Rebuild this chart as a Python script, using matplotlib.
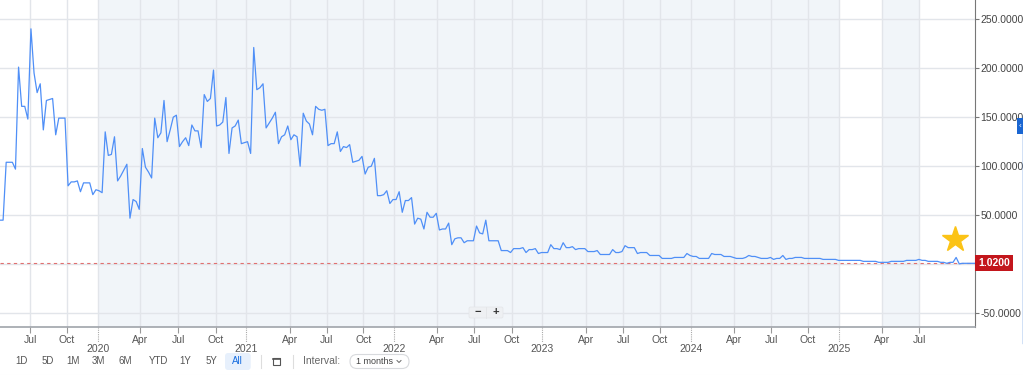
import matplotlib
matplotlib.use("Agg")
import matplotlib.pyplot as plt
import matplotlib.transforms as mtransforms
from matplotlib.patches import FancyBboxPatch, Rectangle
from matplotlib.lines import Line2D

plt.rcParams['font.family'] = ['Liberation Sans', 'DejaVu Sans']

# ---- data (one value per observation, evenly spaced on the chart's ordinal axis) ----
values = [
    45, 45, 104, 104, 104, 97, 201, 161, 161, 148,
    240, 195, 175, 184, 137, 167, 168, 169, 132, 149,
    149, 149, 80, 84, 84, 85, 74, 83, 83, 83,
    71, 76, 75, 73, 135, 111, 112, 130, 85, 90,
    96, 102, 47, 66, 64, 56, 118, 99, 94, 88,
    149, 129, 134, 167, 125, 137, 150, 152, 120, 125,
    129, 121, 142, 136, 136, 119, 173, 166, 169, 198,
    141, 142, 145, 170, 113, 139, 141, 147, 123, 124,
    125, 113, 221, 178, 180, 184, 139, 144, 149, 155,
    123, 130, 132, 141, 127, 132, 130, 100, 154, 146,
    143, 132, 161, 158, 157, 158, 121, 123, 123, 135,
    115, 120, 119, 122,
    104, 105, 106, 110, 92, 99, 100, 108, 70, 70,
    71, 75, 62, 66, 66, 74, 53, 65, 65, 68,
    41, 47, 46, 36, 53, 48, 48, 52, 35, 36,
    36, 42, 20, 26, 27, 27, 22, 24, 24, 24,
    39, 32, 31, 45, 24, 24, 24, 24, 14, 14,
    14, 12, 16, 16, 16, 17, 12, 15, 15, 16,
    11, 12, 12, 12, 20, 16, 16, 15, 22, 17,
    17, 18, 15, 16, 16, 16, 13, 13, 13, 14,
    10, 10, 10, 10, 15, 12, 12, 13, 19, 17,
    17, 17, 11, 12, 12, 12, 9, 9, 9, 9,
    6, 6, 6, 6, 7, 7, 7,
    7, 11, 9, 8, 8, 6, 6, 6, 6, 11,
    10, 10, 10, 8, 8, 8, 7, 6, 6, 6,
    7, 9, 8, 8, 7, 6, 6, 6, 7, 5,
    6, 6, 9, 5, 6, 6, 7, 7, 7, 6,
    6, 6, 6, 6, 6, 5, 5, 5, 5, 5,
    4, 4, 4, 4, 4, 4, 4, 4, 3, 3,
    3, 3, 3, 2, 2, 2, 2, 3, 3, 3,
    3, 3, 4, 4, 4, 4, 5, 4, 4, 3,
    3, 3, 3, 2, 2, 1, 2, 2, 7, 0.5,
    1, 1, 1, 1, 1, 1.02,
]
last_value = 1.02

month_labels = ["Jul", "Oct", "Apr", "Jul", "Oct", "Apr", "Jul", "Oct", "Apr", "Jul", "Oct",
                "Apr", "Jul", "Oct", "Apr", "Jul", "Oct", "Apr", "Jul"]
month_pos = [9.70, 21.56, 45.35, 57.63, 69.72, 93.73, 105.59, 117.42, 141.14, 153.30, 165.38,
             189.40, 201.45, 213.32, 237.33, 249.19, 261.05, 285.16, 297.03]
year_labels = ["2020", "2021", "2022", "2023", "2024", "2025"]
year_pos = [31.58, 79.51, 127.44, 175.28, 223.43, 271.17]
y_ticks = [-50, 0, 50, 100, 150, 200, 250]
range_buttons = ["1D", "5D", "1M", "3M", "6M", "YTD", "1Y", "5Y", "All"]

W, H = 1023, 375
fig = plt.figure(figsize=(W / 100, H / 100), dpi=100)
fig.patch.set_facecolor("white")
ax = fig.add_axes([0, 48 / H, 975 / W, 327 / H])
ax.set_facecolor("white")

# pixel transform (origin top-left)
pix = mtransforms.Affine2D().scale(1, -1).translate(0, H)

x = list(range(len(values)))
ax.set_xlim(0, 315.1)
ax.set_ylim(-63.9, 269.4)

# shaded periods
shade = "#f1f5f9"
ax.axvspan(year_pos[0], year_pos[-1], color=shade, zorder=0, lw=0)
ax.axvspan(month_pos[-2], month_pos[-1], color=shade, zorder=0, lw=0)

# grids
grid_c = "#e2e5ea"
for p in month_pos + year_pos:
    ax.axvline(p, color=grid_c, lw=1, zorder=1)
for v in y_ticks:
    ax.axhline(v, color=grid_c, lw=1, zorder=1)

# series
ax.plot(x, values, color="#4f8ff7", lw=0.9, zorder=3)
ax.axhline(last_value, color="#e07070", lw=0.8, ls=(0, (3, 3)), zorder=2)

# axes styling
for s in ["left", "top"]:
    ax.spines[s].set_visible(False)
ax.spines["right"].set_color("#777777")
ax.spines["bottom"].set_color("#a0a4aa")
ax.spines["bottom"].set_linewidth(1.2)

ax.yaxis.tick_right()
ax.set_yticks(y_ticks)
# the 0 label is hidden behind the last-value tag
ax.set_yticklabels(["" if v == 0 else f"{v:.4f}" for v in y_ticks])
ax.tick_params(axis="y", direction="out", length=3, width=0.8, colors="#777777",
               labelcolor="#444444", labelsize=7.5, pad=1)

ax.set_xticks(month_pos)
ax.set_xticklabels(month_labels)
ax.set_xticks(year_pos, minor=True)
ax.set_xticklabels(year_labels, minor=True)
ax.tick_params(axis="x", which="major", direction="out", length=4, width=0.8,
               colors="#999999", labelcolor="#555555", labelsize=7.5, pad=1.5)
ax.tick_params(axis="x", which="minor", length=0, labelcolor="#555555",
               labelsize=7.5, pad=12)

# dotted year ticks
trans = mtransforms.blended_transform_factory(ax.transData, ax.transAxes)
for p in year_pos:
    ax.plot([p, p], [0, -0.045], transform=trans, color="#aaaaaa", lw=0.8,
            ls=(0, (1, 1)), clip_on=False)

# last value label
trans_y = mtransforms.blended_transform_factory(ax.transAxes, ax.transData)
ax.text(1.003, last_value, "1.0200", transform=trans_y, ha="left", va="center",
        color="white", fontsize=7.5, fontweight="bold",
        bbox=dict(boxstyle="square,pad=0.3", fc="#c3161c", ec="none"), zorder=5)

# star icon
ax.plot([0.9795], [0.269], transform=ax.transAxes, marker="*", markersize=19,
        color="#fbc316", markeredgecolor="#fbc316", clip_on=False, zorder=6)


def line(xs, ys, **kw):
    fig.lines.append(Line2D(xs, ys, transform=pix, **kw))


def txt(px, py, s, **kw):
    fig.text(px / W, 1 - py / H, s, **kw)


# zoom buttons
fig.patches.append(FancyBboxPatch((469, 307), 34, 11, boxstyle="round,pad=0,rounding_size=1.5",
                                  transform=pix, fc="#eef0f3", ec="#e3e5e8", lw=0.5, zorder=5))
line([486, 486], [307, 318], color="#e3e5e8", lw=0.6, zorder=6)
txt(477.7, 312.5, "−", ha="center", va="center", fontsize=8, color="#333333", fontweight="bold",
    zorder=7)
txt(495.7, 312.5, "+", ha="center", va="center", fontsize=8, color="#333333", fontweight="bold",
    zorder=7)

# bottom toolbar
btn_x = [21.7, 47.7, 73.3, 98.7, 125.7, 158.3, 185.7, 211.7, 237.7]
fig.patches.append(FancyBboxPatch((225, 353), 25.7, 17, boxstyle="round,pad=0,rounding_size=3",
                                  transform=pix, fc="#e7f0fc", ec="none"))
for bx, lab in zip(btn_x, range_buttons):
    txt(bx, 361.5, lab, ha="center", va="center", fontsize=7,
        color="#1a6fe0" if lab == "All" else "#555555")
for sx in [261.3, 292.7]:
    line([sx, sx], [355, 368], color="#dddddd", lw=0.8)
fig.patches.append(Rectangle((273, 358), 7, 7, transform=pix, fc="none", ec="#555555", lw=0.8))
line([273, 280], [358.5, 358.5], color="#555555", lw=1.2)
txt(303, 361.5, "Interval:", ha="left", va="center", fontsize=7.5, color="#666666")
fig.patches.append(FancyBboxPatch((350, 354.5), 59, 14, boxstyle="round,pad=0,rounding_size=7",
                                  transform=pix, fc="white", ec="#d8dadd", lw=0.8))
txt(356, 361.5, "1 months", ha="left", va="center", fontsize=6.5, color="#444444")
line([397, 399, 401], [360.5, 362.5, 360.5], color="#666666", lw=0.7)
line([0, W], [374.5, 374.5], color="#eeeeee", lw=0.8)

# right side panel tab
line([1022.5, 1022.5], [115, 343], color="#1a66d2", lw=1)
fig.patches.append(Rectangle((1016.7, 118), 6.3, 16, transform=pix, fc="#1a66d2", ec="none"))
txt(1019.8, 126, "‹", ha="center", va="center", fontsize=6, color="white")

fig.savefig("out.png", dpi=100, facecolor="white")
